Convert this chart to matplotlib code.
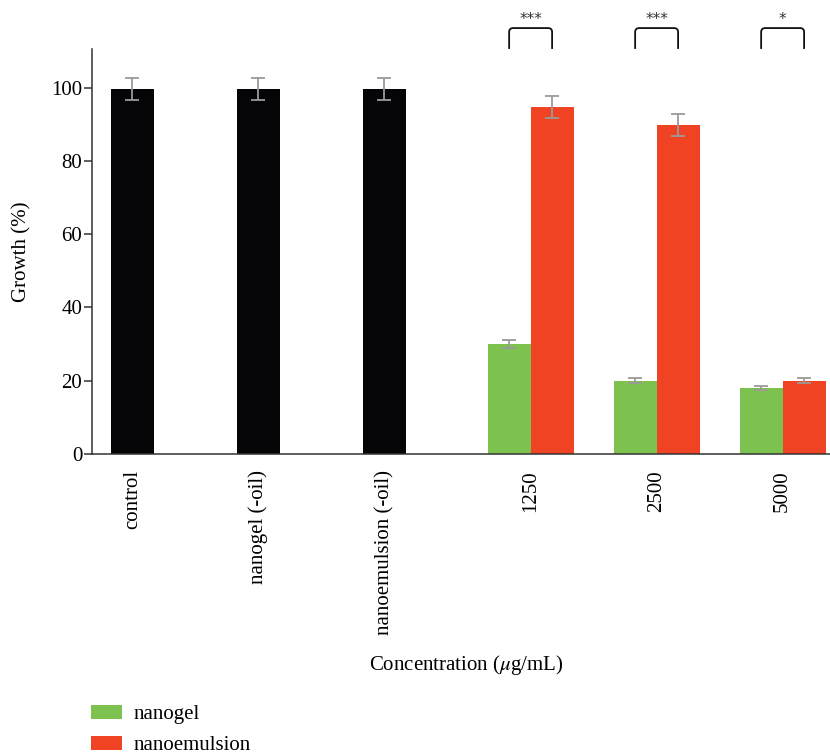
import numpy as np
import matplotlib
matplotlib.use("Agg")
import matplotlib.pyplot as plt
from matplotlib.patches import Patch, PathPatch
from matplotlib.path import Path

plt.rcParams["font.family"] = ["Liberation Serif", "DejaVu Serif"]
plt.rcParams["mathtext.fontset"] = "stix"

# ---- data ----
control_labels = ["control", "nanogel (-oil)", "nanoemulsion (-oil)"]
control_values = [99.7, 99.7, 99.7]
control_errors = [3.0, 3.0, 3.0]

concentrations = ["1250", "2500", "5000"]
nanogel_values = [30.0, 19.9, 17.9]
nanogel_errors = [1.1, 0.7, 0.6]
nanoemulsion_values = [94.8, 89.9, 19.9]
nanoemulsion_errors = [3.0, 3.0, 0.7]
significance = ["***", "***", "*"]

series_names = ["nanogel", "nanoemulsion"]

# ---- style ----
BLACK = "#050508"
GREEN = "#7DC24F"
RED = "#EF4324"
ERR = "#9a9a9a"
FS = 15

fig = plt.figure(figsize=(8.30, 7.56), dpi=100)
ax = fig.add_axes([92 / 830, 1 - 453.7 / 756, 738 / 830, (453.7 - 49.3) / 756])

width = 0.341
gap = 0.16
x_ctrl = np.arange(len(control_labels))
x_conc = np.arange(len(concentrations)) + len(control_labels) + gap

err_kw = dict(ecolor=ERR, elinewidth=1.3, capsize=5, capthick=1.3)

ax.bar(x_ctrl, control_values, width, color=BLACK, yerr=control_errors,
       error_kw=err_kw, zorder=2)
ax.bar(x_conc - width / 2, nanogel_values, width, color=GREEN,
       yerr=nanogel_errors, error_kw=err_kw, zorder=2)
ax.bar(x_conc + width / 2, nanoemulsion_values, width, color=RED,
       yerr=nanoemulsion_errors, error_kw=err_kw, zorder=2)

ax.set_xlim(-0.321, 5.536)
ax.set_ylim(0, 110.5)
ax.set_yticks(np.arange(0, 101, 20))
ax.set_xticks(np.concatenate([x_ctrl, x_conc]))
ax.set_xticklabels(control_labels + concentrations, rotation=90,
                   fontsize=FS, va="top", ha="center")

for side in ("top", "right"):
    ax.spines[side].set_visible(False)
for side in ("left", "bottom"):
    ax.spines[side].set_linewidth(1.1)
    ax.spines[side].set_color("#333333")

ax.tick_params(axis="x", length=0, pad=12)
ax.tick_params(axis="y", length=6, width=1.1, color="#333333", pad=1,
               labelsize=FS, direction="out")

ax.set_ylabel("Growth (%)", fontsize=FS)
ax.yaxis.set_label_coords((22 - 92) / 738, 0.5)
ax.yaxis.label.set_va("center")
ax.set_xlabel(r"Concentration ($\mu$g/mL)", fontsize=FS)
ax.xaxis.set_label_coords((466 - 92) / 738, -(665 - 453.7) / 404.4)
ax.xaxis.label.set_va("center")

# significance brackets above each concentration pair
rx, ry = 0.032, 1.1
y_low, y_top = 110.6, 116.3
for xc, mark in zip(x_conc, significance):
    x0, x1 = xc - width / 2, xc + width / 2
    verts = [(x0, y_low), (x0, y_top - ry), (x0, y_top), (x0 + rx, y_top),
             (x1 - rx, y_top), (x1, y_top), (x1, y_top - ry), (x1, y_low)]
    codes = [Path.MOVETO, Path.LINETO, Path.CURVE3, Path.CURVE3,
             Path.LINETO, Path.CURVE3, Path.CURVE3, Path.LINETO]
    ax.add_patch(PathPatch(Path(verts, codes), fill=False, lw=1.3,
                           edgecolor="#111111", clip_on=False))
    ax.text(xc, 117.4, mark, ha="center", va="baseline", fontsize=11,
            family="DejaVu Sans", color="#333333", clip_on=False)

handles = [Patch(facecolor=GREEN), Patch(facecolor=RED)]
fig.legend(handles, series_names, loc="upper left",
           bbox_to_anchor=(91 / 830, 1 - 705 / 756), frameon=False,
           fontsize=FS, borderpad=0, borderaxespad=0, handlelength=1.49,
           handleheight=0.67, handletextpad=0.53, labelspacing=0.55)

fig.savefig("out.png", dpi=100)
